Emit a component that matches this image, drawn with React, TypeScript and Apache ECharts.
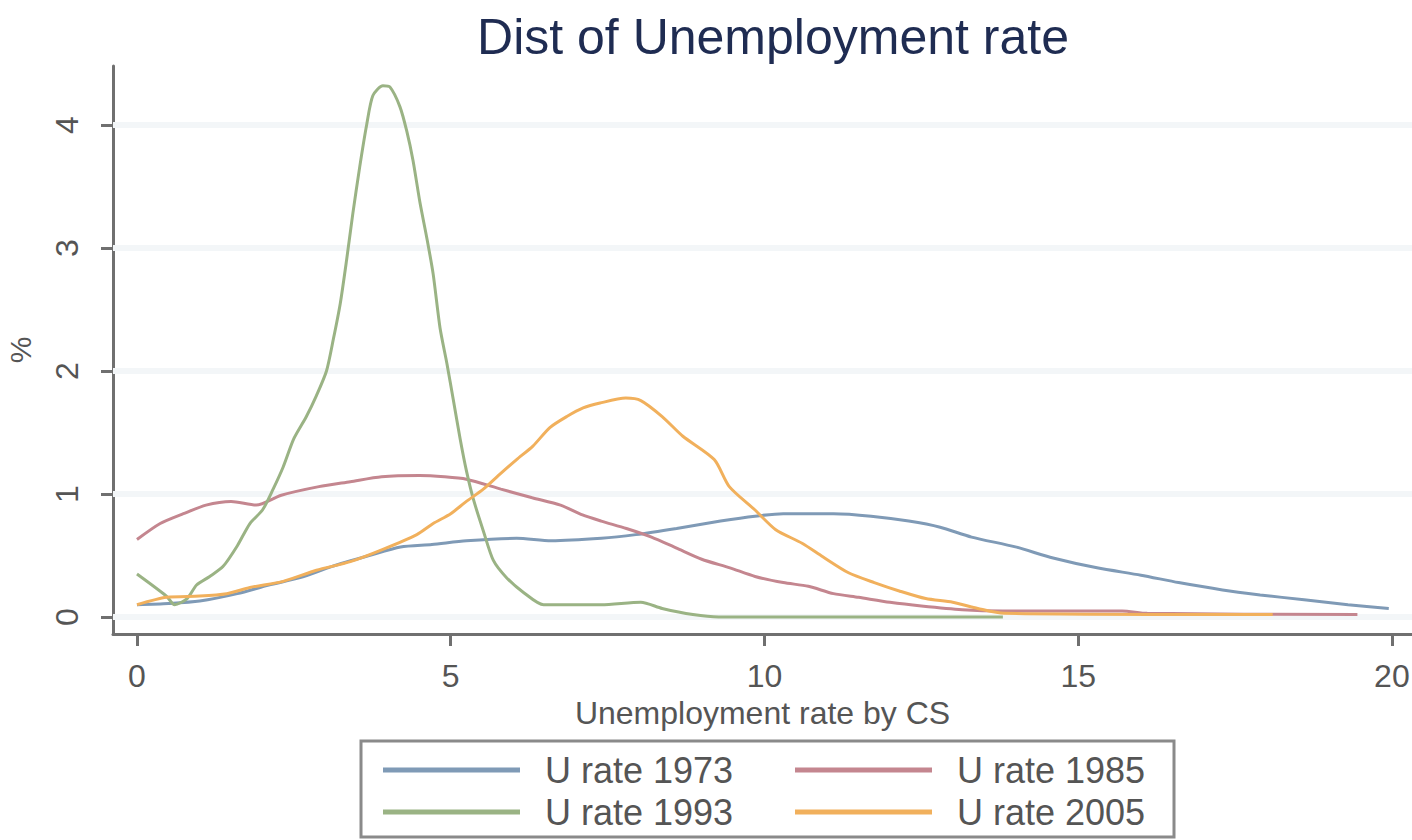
import React, { useEffect, useRef } from "react";
import * as echarts from "echarts";

const seriesNames = ["U rate 1973", "U rate 1985", "U rate 1993", "U rate 2005"];
const seriesColors = ["#7f9ab6", "#c4868f", "#9ab384", "#f1b05c"];

const u1973: [number, number][] = [
  [0, 0.1], [0.5, 0.11], [1.0, 0.13], [1.6, 0.19], [2.1, 0.26], [2.6, 0.32], [3.1, 0.41],
  [3.7, 0.5], [4.2, 0.57], [4.7, 0.59], [5.25, 0.62], [6.05, 0.64], [6.6, 0.62], [7.4, 0.64],
  [7.95, 0.67], [8.6, 0.72], [9.3, 0.78], [9.85, 0.82], [10.3, 0.84], [11.1, 0.84], [11.7, 0.82],
  [12.3, 0.78], [12.8, 0.73], [13.3, 0.65], [14.0, 0.57], [14.6, 0.48], [15.3, 0.4], [16.0, 0.34],
  [16.6, 0.28], [17.3, 0.22], [17.9, 0.18], [18.6, 0.14], [19.3, 0.1], [19.95, 0.07],
];

const u1985: [number, number][] = [
  [0, 0.63], [0.37, 0.76], [0.74, 0.84], [1.1, 0.91], [1.5, 0.94], [1.9, 0.91], [2.3, 0.99],
  [2.9, 1.06], [3.4, 1.1], [3.9, 1.14], [4.5, 1.15], [4.9, 1.14], [5.25, 1.12], [5.8, 1.04],
  [6.3, 0.97], [6.75, 0.91], [7.1, 0.83], [7.4, 0.78], [7.8, 0.72], [8.2, 0.65], [8.6, 0.56],
  [9.0, 0.47], [9.45, 0.4], [9.85, 0.33], [10.3, 0.28], [10.7, 0.25], [11.1, 0.19], [11.5, 0.16],
  [12.0, 0.12], [12.5, 0.09], [13.15, 0.06], [13.8, 0.05], [15.7, 0.05], [16.1, 0.03], [19.45, 0.02],
];

const u1993: [number, number][] = [
  [0, 0.35], [0.47, 0.17], [0.6, 0.1], [0.8, 0.15], [0.95, 0.26], [1.16, 0.33], [1.37, 0.41],
  [1.6, 0.58], [1.8, 0.76], [2.0, 0.87], [2.17, 1.04], [2.33, 1.22], [2.5, 1.45], [2.7, 1.63],
  [2.86, 1.8], [3.02, 2.0], [3.13, 2.26], [3.24, 2.55], [3.34, 2.9], [3.44, 3.28], [3.55, 3.66],
  [3.66, 4.0], [3.76, 4.24], [3.92, 4.32], [4.03, 4.31], [4.19, 4.15], [4.3, 3.95], [4.4, 3.71],
  [4.51, 3.37], [4.62, 3.08], [4.72, 2.79], [4.83, 2.35], [4.94, 2.06], [5.04, 1.77], [5.15, 1.45],
  [5.25, 1.19], [5.36, 0.96], [5.52, 0.7], [5.68, 0.46], [5.89, 0.32], [6.16, 0.2], [6.48, 0.1],
  [6.85, 0.1], [7.4, 0.1], [8.03, 0.12], [8.37, 0.07], [8.86, 0.02], [9.27, 0.0], [13.8, 0.0],
];

const u2005: [number, number][] = [
  [0, 0.1], [0.47, 0.16], [1.0, 0.17], [1.43, 0.19], [1.8, 0.24], [2.33, 0.29], [2.86, 0.38],
  [3.4, 0.45], [3.92, 0.55], [4.46, 0.67], [4.72, 0.76], [5.0, 0.84], [5.25, 0.94], [5.52, 1.04],
  [5.78, 1.16], [6.05, 1.28], [6.31, 1.39], [6.58, 1.54], [6.85, 1.63], [7.11, 1.7], [7.38, 1.74],
  [7.79, 1.78], [8.03, 1.76], [8.37, 1.63], [8.7, 1.47], [9.2, 1.28], [9.44, 1.06], [9.85, 0.87],
  [10.18, 0.71], [10.6, 0.6], [10.93, 0.49], [11.34, 0.36], [11.75, 0.28], [12.16, 0.21],
  [12.57, 0.15], [13.0, 0.12], [13.4, 0.07], [13.82, 0.03], [18.1, 0.02],
];

const xTicks = [0, 5, 10, 15, 20];
const yTicks = [0, 1, 2, 3, 4];

const FONT = "'Liberation Sans', Arial, sans-serif";

export default function App() {
  const ref = useRef<HTMLDivElement>(null);
  useEffect(() => {
    if (!ref.current) return;
    const chart = echarts.init(ref.current, null, { renderer: "svg" });
    const allData = [u1973, u1985, u1993, u2005];
    const axisColor = "#707070";
    chart.setOption({
      animation: false,
      backgroundColor: "#ffffff",
      textStyle: { fontFamily: FONT },
      title: {
        text: "Dist of Unemployment rate",
        left: 768,
        top: 7,
        textAlign: "center",
        textStyle: { fontFamily: FONT, fontSize: 50, fontWeight: "normal", color: "#1f2c52" },
      },
      grid: {
        left: 113,
        right: 0,
        top: 66,
        bottom: 206,
        containLabel: false,
        outerBoundsMode: "none",
      },
      xAxis: {
        type: "value",
        min: -0.382,
        max: 20.32,
        name: "Unemployment rate by CS",
        nameLocation: "middle",
        nameGap: 54,
        nameTextStyle: { fontFamily: FONT, fontSize: 32, color: "#555" },
        axisLine: { show: true, onZero: false, lineStyle: { color: axisColor, width: 3 } },
        axisTick: { show: true, customValues: xTicks, length: 12, lineStyle: { color: axisColor, width: 3 } },
        axisLabel: { customValues: xTicks, margin: 26, fontSize: 32, color: "#555", fontFamily: FONT },
        splitLine: { show: false },
      },
      yAxis: {
        type: "value",
        min: -0.138,
        max: 4.48,
        name: "%",
        nameLocation: "middle",
        nameRotate: 90,
        nameGap: 78,
        nameTextStyle: { fontFamily: FONT, fontSize: 30, color: "#555" },
        axisLine: { show: true, onZero: false, lineStyle: { color: axisColor, width: 3 } },
        axisTick: { show: true, customValues: yTicks, length: 12, lineStyle: { color: axisColor, width: 3 } },
        axisLabel: { customValues: yTicks, rotate: 90, margin: 30, fontSize: 32, color: "#555", fontFamily: FONT },
        splitLine: { show: false },
      },
      legend: [
        {
          data: [seriesNames[0], seriesNames[2]],
          orient: "vertical",
          left: 378,
          top: 747,
          icon: "rect",
          itemWidth: 137,
          itemHeight: 5,
          itemGap: 6,
          textStyle: { fontFamily: FONT, fontSize: 36, lineHeight: 36, color: "#555", padding: [0, 0, 0, 20] },
        },
        {
          data: [seriesNames[1], seriesNames[3]],
          orient: "vertical",
          left: 790,
          top: 747,
          icon: "rect",
          itemWidth: 137,
          itemHeight: 5,
          itemGap: 6,
          textStyle: { fontFamily: FONT, fontSize: 36, lineHeight: 36, color: "#555", padding: [0, 0, 0, 20] },
        },
      ],
      graphic: [
        {
          type: "rect",
          shape: { x: 361, y: 741, width: 813, height: 96 },
          style: { fill: "none", stroke: "#8a8a8a", lineWidth: 3 },
          silent: true,
        },
      ],
      series: allData.map((d, i) => ({
        name: seriesNames[i],
        type: "line",
        data: d,
        smooth: 0.25,
        showSymbol: false,
        symbol: "none",
        color: seriesColors[i],
        lineStyle: { color: seriesColors[i], width: 3 },
        z: 3,
        ...(i === 0
          ? {
              markLine: {
                silent: true,
                symbol: "none",
                label: { show: false },
                lineStyle: { color: "#f3f6f8", width: 6, type: "solid" },
                data: yTicks.map((v) => ({ yAxis: v })),
                z: 1,
              },
            }
          : {}),
      })),
    });
    return () => chart.dispose();
  }, []);
  return (
    <div
      ref={ref}
      style={{ position: "fixed", left: 0, top: 0, width: 1412, height: 840, background: "#fff" }}
    />
  );
}
